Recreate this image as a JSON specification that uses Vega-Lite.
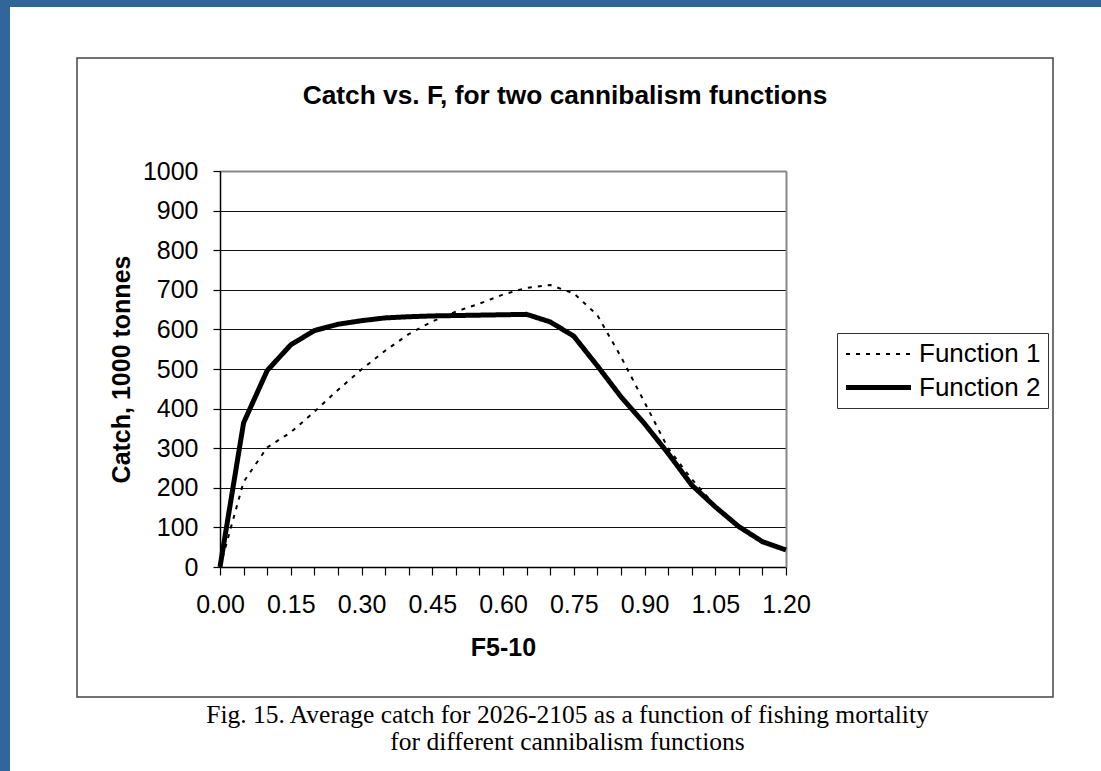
{
  "$schema": "https://vega.github.io/schema/vega-lite/v6.json",
  "background": "white",
  "padding": 0,
  "spacing": 0,
  "bounds": "flush",
  "config": {
    "font": "Liberation Sans",
    "view": {"stroke": null},
    "concat": {"spacing": 0}
  },
  "hconcat": [
    {
      "width": 10, "height": 771,
      "view": {"fill": "#306699", "stroke": null},
      "data": {"values": []},
      "mark": "point",
      "encoding": {}
    },
    {
      "vconcat": [
        {
          "width": 1091, "height": 7,
          "view": {"fill": "#306699", "stroke": null},
          "data": {"values": []},
          "mark": "point",
          "encoding": {}
        },
        {
          "hconcat": [
            {
              "width": 67, "height": 639,
              "view": {"stroke": null},
              "data": {"values": []},
              "mark": "point",
              "encoding": {}
            },
            {
              "width": 976, "height": 639,
              "view": {"stroke": "#444", "strokeWidth": 1.5, "fill": "white"},
              "title": {
                "text": "Catch vs. F, for two cannibalism functions",
                "orient": "top", "anchor": "middle", "frame": "group",
                "font": "Liberation Sans", "fontSize": 26.3, "fontWeight": "bold", "color": "black",
                "baseline": "middle", "offset": -64
              },
              "data": {"values": [
                {"F": 0.00, "catch": 0, "series": "Function 1"},
                {"F": 0.05, "catch": 215, "series": "Function 1"},
                {"F": 0.10, "catch": 302, "series": "Function 1"},
                {"F": 0.15, "catch": 340, "series": "Function 1"},
                {"F": 0.20, "catch": 392, "series": "Function 1"},
                {"F": 0.25, "catch": 447, "series": "Function 1"},
                {"F": 0.30, "catch": 499, "series": "Function 1"},
                {"F": 0.35, "catch": 546, "series": "Function 1"},
                {"F": 0.40, "catch": 588, "series": "Function 1"},
                {"F": 0.45, "catch": 620, "series": "Function 1"},
                {"F": 0.50, "catch": 645, "series": "Function 1"},
                {"F": 0.55, "catch": 665, "series": "Function 1"},
                {"F": 0.60, "catch": 688, "series": "Function 1"},
                {"F": 0.65, "catch": 705, "series": "Function 1"},
                {"F": 0.70, "catch": 712, "series": "Function 1"},
                {"F": 0.75, "catch": 691, "series": "Function 1"},
                {"F": 0.80, "catch": 636, "series": "Function 1"},
                {"F": 0.85, "catch": 531, "series": "Function 1"},
                {"F": 0.90, "catch": 416, "series": "Function 1"},
                {"F": 0.95, "catch": 300, "series": "Function 1"},
                {"F": 1.00, "catch": 222, "series": "Function 1"},
                {"F": 1.05, "catch": 155, "series": "Function 1"},
                {"F": 1.10, "catch": 102, "series": "Function 1"},
                {"F": 1.15, "catch": 64, "series": "Function 1"},
                {"F": 1.20, "catch": 43, "series": "Function 1"},
                {"F": 0.00, "catch": 0, "series": "Function 2"},
                {"F": 0.05, "catch": 364, "series": "Function 2"},
                {"F": 0.10, "catch": 496, "series": "Function 2"},
                {"F": 0.15, "catch": 561, "series": "Function 2"},
                {"F": 0.20, "catch": 597, "series": "Function 2"},
                {"F": 0.25, "catch": 613, "series": "Function 2"},
                {"F": 0.30, "catch": 622, "series": "Function 2"},
                {"F": 0.35, "catch": 629, "series": "Function 2"},
                {"F": 0.40, "catch": 632, "series": "Function 2"},
                {"F": 0.45, "catch": 634, "series": "Function 2"},
                {"F": 0.50, "catch": 635, "series": "Function 2"},
                {"F": 0.55, "catch": 636, "series": "Function 2"},
                {"F": 0.60, "catch": 637, "series": "Function 2"},
                {"F": 0.65, "catch": 638, "series": "Function 2"},
                {"F": 0.70, "catch": 619, "series": "Function 2"},
                {"F": 0.75, "catch": 583, "series": "Function 2"},
                {"F": 0.80, "catch": 508, "series": "Function 2"},
                {"F": 0.85, "catch": 430, "series": "Function 2"},
                {"F": 0.90, "catch": 362, "series": "Function 2"},
                {"F": 0.95, "catch": 287, "series": "Function 2"},
                {"F": 1.00, "catch": 207, "series": "Function 2"},
                {"F": 1.05, "catch": 152, "series": "Function 2"},
                {"F": 1.10, "catch": 102, "series": "Function 2"},
                {"F": 1.15, "catch": 64, "series": "Function 2"},
                {"F": 1.20, "catch": 43, "series": "Function 2"}
              ]},
              "layer": [
                {
                  "mark": {"type": "line", "color": "black", "clip": false},
                  "encoding": {
                    "x": {
                      "field": "F", "type": "quantitative",
                      "scale": {"domain": [0, 1.2], "range": [143, 709], "nice": false, "zero": false},
                      "axis": {
                        "orient": "bottom", "offset": -130,
                        "values": [0, 0.05, 0.1, 0.15, 0.2, 0.25, 0.3, 0.35, 0.4, 0.45, 0.5, 0.55, 0.6, 0.65, 0.7, 0.75, 0.8, 0.85, 0.9, 0.95, 1.0, 1.05, 1.1, 1.15, 1.2],
                        "format": ".2f",
                        "labelExpr": "round(datum.value * 100) % 15 == 0 ? datum.label : ''",
                        "labelOverlap": false, "labelFlush": false,
                        "grid": false,
                        "domainColor": "black", "domainWidth": 1.5,
                        "tickColor": "black", "tickWidth": 1.2, "tickSize": 8,
                        "labelFont": "Liberation Sans", "labelFontSize": 25, "labelColor": "black", "labelPadding": 17,
                        "title": "F5-10",
                        "titleFont": "Liberation Sans", "titleFontSize": 25, "titleFontWeight": "bold", "titleColor": "black", "titlePadding": 18
                      }
                    },
                    "y": {
                      "field": "catch", "type": "quantitative",
                      "scale": {"domain": [0, 1000], "range": [509, 113], "nice": false, "zero": false},
                      "axis": {
                        "orient": "left", "offset": -143,
                        "values": [0, 100, 200, 300, 400, 500, 600, 700, 800, 900, 1000],
                        "format": "d",
                        "grid": true, "gridColor": "#111", "gridWidth": 1.2,
                        "domainColor": "black", "domainWidth": 1.5,
                        "tickColor": "black", "tickWidth": 1.2, "tickSize": 7,
                        "labelFont": "Liberation Sans", "labelFontSize": 25, "labelColor": "black", "labelPadding": 15,
                        "title": "Catch, 1000 tonnes",
                        "titleFont": "Liberation Sans", "titleFontSize": 25, "titleFontWeight": "bold", "titleColor": "black", "titlePadding": 8
                      }
                    },
                    "strokeDash": {
                      "field": "series", "type": "nominal",
                      "scale": {"domain": ["Function 1", "Function 2"], "range": [[4, 6], [1, 0]]},
                      "legend": {
                        "orient": "none", "legendX": 837, "legendY": 333,
                        "title": null,
                        "strokeColor": "#333", "fillColor": "white", "padding": 7,
                        "symbolType": "M-2.5,0H2.5", "symbolSize": 676,
                        "symbolStrokeColor": "black",
                        "labelFont": "Liberation Sans", "labelFontSize": 26, "labelColor": "black",
                        "labelOffset": 25, "symbolOffset": 19, "rowPadding": 5
                      }
                    },
                    "strokeWidth": {
                      "field": "series", "type": "nominal",
                      "scale": {"domain": ["Function 1", "Function 2"], "range": [2, 5]},
                      "legend": {
                        "orient": "none", "legendX": 837, "legendY": 333,
                        "title": null,
                        "strokeColor": "#333", "fillColor": "white", "padding": 7,
                        "symbolType": "M-2.5,0H2.5", "symbolSize": 676,
                        "symbolStrokeColor": "black",
                        "labelFont": "Liberation Sans", "labelFontSize": 26, "labelColor": "black",
                        "labelOffset": 25, "symbolOffset": 19, "rowPadding": 5
                      }
                    }
                  }
                },
                {
                  "mark": {"type": "point", "opacity": 0},
                  "encoding": {
                    "x": {
                      "field": "F", "type": "quantitative",
                      "axis": {"orient": "top", "offset": -113, "domain": true, "domainColor": "#888", "domainWidth": 2, "labels": false, "ticks": false, "grid": false, "title": null}
                    },
                    "y": {
                      "field": "catch", "type": "quantitative",
                      "axis": {"orient": "right", "offset": -267, "domain": true, "domainColor": "#888", "domainWidth": 2, "labels": false, "ticks": false, "grid": false, "title": null}
                    }
                  }
                }
              ],
              "resolve": {"axis": {"x": "independent", "y": "independent"}}
            }
          ],
          "spacing": 0,
          "bounds": "flush"
        }
      ],
      "spacing": 51,
      "bounds": "flush",
      "title": {
        "text": ["Fig. 15. Average catch for 2026-2105 as a function of fishing mortality", "for different cannibalism functions"],
        "orient": "bottom", "anchor": "middle",
        "font": "Liberation Serif", "fontSize": 25.5, "fontWeight": "normal", "color": "black",
        "lineHeight": 27, "baseline": "top", "offset": 5, "dx": 12
      }
    }
  ]
}
